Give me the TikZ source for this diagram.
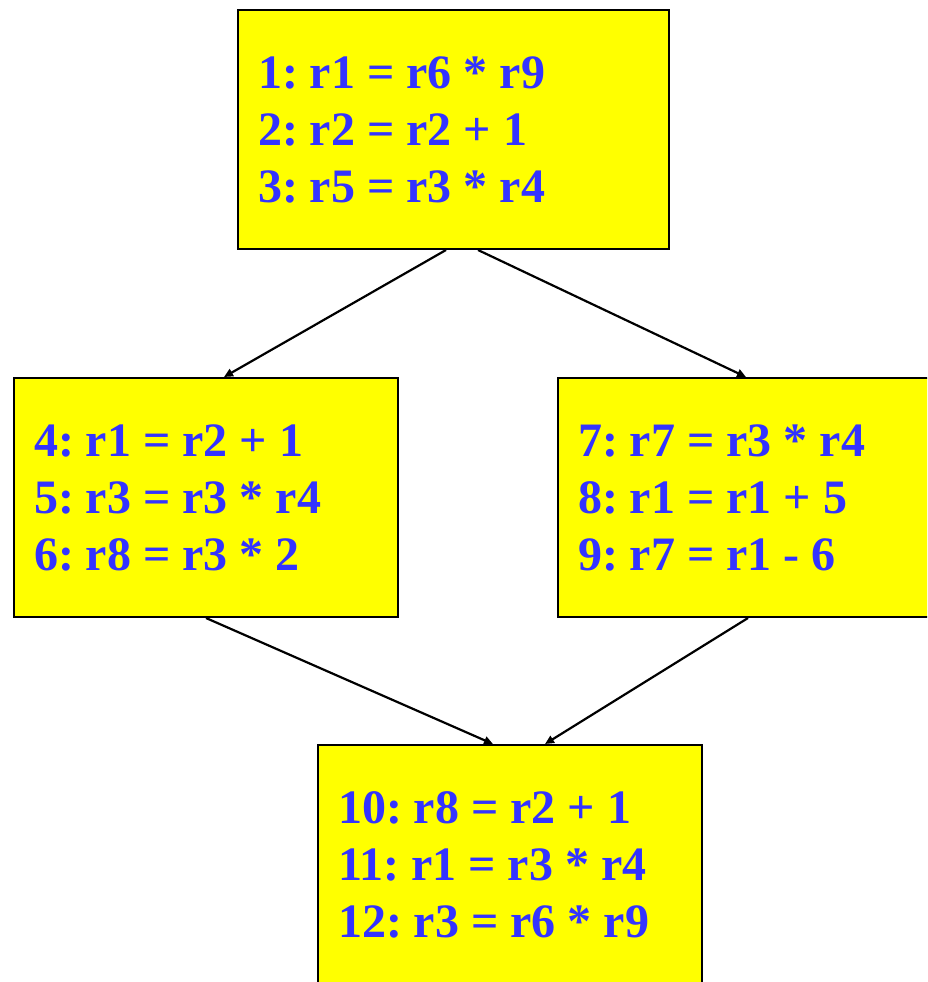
\documentclass[tikz,border=0pt]{standalone}
\usepackage{fontspec}
\setmainfont{Liberation Serif}
\usepackage{tikz}
\usetikzlibrary{arrows.meta}
\definecolor{codeblue}{RGB}{51,51,255}
\definecolor{boxyellow}{RGB}{255,255,0}
\frenchspacing
\newcommand{\codefont}{\fontsize{48}{57}\selectfont\bfseries\frenchspacing}

\begin{document}
\begin{tikzpicture}
[
x=1pt, y=-1pt,
every node/.style={draw=black, line width=2pt, fill=boxyellow, text=codeblue,
  font=\codefont, align=flush left, inner xsep=20pt, minimum height=239pt, anchor=center},
wide/.style={text width=391pt},
narrow/.style={text width=344pt},
flow/.style={line width=2.2pt, -{Triangle[length=9pt,width=8pt]}}
]
\clip (0,0) rectangle (927,982);

\node[wide] (entry) at (453.5,129.5) {1: r1 = r6 * r9\\2: r2 = r2 + 1\\3: r5 = r3 * r4};
\node[narrow] (thenb) at (206,497.5) {4: r1 = r2 + 1\\5: r3 = r3 * r4\\6: r8 = r3 * 2};
\node[narrow] (elseb) at (750,497.5) {7: r7 = r3 * r4\\8: r1 = r1 + 5\\9: r7 = r1 - 6};
\node[narrow] (join) at (510,864.5) {10: r8 = r2 + 1\\11: r1 = r3 * r4\\12: r3 = r6 * r9};

\draw[flow] ([xshift=-7.5pt]entry.south) -- ([xshift=18pt]thenb.north);
\draw[flow] ([xshift=24.5pt]entry.south) -- ([xshift=-4pt]elseb.north);
\draw[flow] (thenb.south) -- ([xshift=-17pt]join.north);
\draw[flow] ([xshift=-2pt]elseb.south) -- ([xshift=35pt]join.north);
\end{tikzpicture}
\end{document}
